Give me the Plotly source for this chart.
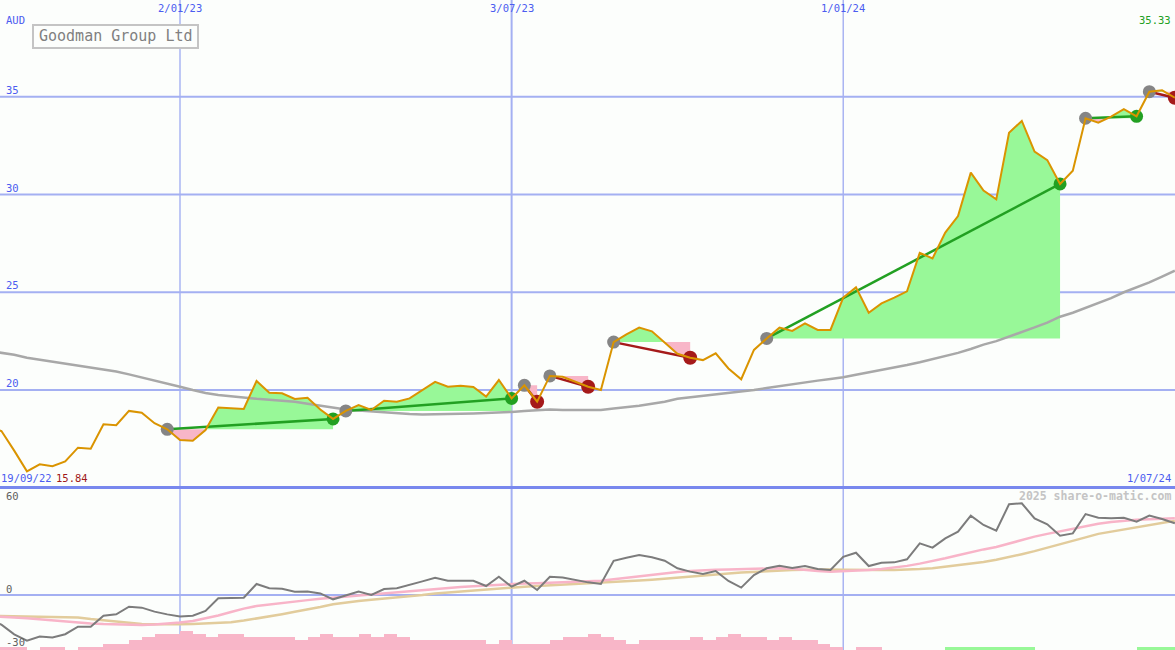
import pandas as pd
import plotly.graph_objects as go

# ---------------- data ----------------
dates = pd.date_range("2022-09-19", periods=94, freq="7D")

price = [18.1,
         17.9, 16.9, 15.84, 16.2, 16.1, 16.35, 17.05, 17.0, 18.25, 18.2,
         18.93, 18.84, 18.3, 17.99, 17.44, 17.4, 17.95, 19.1, 19.07, 19.03,
         20.46, 19.86, 19.83, 19.54, 19.6, 19.0, 18.52, 18.93, 19.23, 18.98,
         19.45, 19.4, 19.57, 20.0, 20.42, 20.17, 20.22, 20.15, 19.66, 20.51,
         19.57, 20.24, 19.4, 20.72, 20.68, 20.42, 20.17, 20.0, 22.45, 22.85,
         23.19, 23.0, 22.4, 21.85, 21.65, 21.53, 21.88, 21.1, 20.55, 22.05,
         22.64, 23.19, 23.02, 23.41, 23.07, 23.07, 24.72, 25.25, 23.95, 24.43,
         24.72, 25.05, 27.02, 26.73, 28.05, 28.9, 31.12, 30.2, 29.75, 33.16,
         33.76, 32.19, 31.76, 30.54, 31.22, 33.9, 33.67, 33.98, 34.37, 34.0,
         35.26, 35.33, 34.95]

long_ma = [22.0,
           21.9, 21.8, 21.65, 21.55, 21.45, 21.35, 21.25, 21.15, 21.05, 20.95,
           20.8, 20.65, 20.5, 20.35, 20.17, 20.0, 19.85, 19.75, 19.68, 19.6,
           19.55, 19.5, 19.45, 19.4, 19.3, 19.2, 19.1, 19.0, 18.95, 18.9,
           18.85, 18.8, 18.77, 18.75, 18.75, 18.76, 18.78, 18.8, 18.82, 18.85,
           18.88, 18.92, 18.96, 19.0, 18.98, 18.97, 18.97, 18.98, 19.05, 19.12,
           19.2, 19.3, 19.4, 19.55, 19.62, 19.7, 19.77, 19.85, 19.9, 20.0,
           20.1, 20.2, 20.3, 20.4, 20.48, 20.56, 20.65, 20.78, 20.9, 21.02,
           21.15, 21.28, 21.42, 21.57, 21.72, 21.9, 22.1, 22.32, 22.5, 22.72,
           22.95, 23.2, 23.45, 23.75, 23.95, 24.2, 24.45, 24.7, 25.0, 25.25,
           25.5, 25.8, 26.1]

oscillator = [-15.5,
              -18.5, -24.6, -28.5, -26, -26.6, -24.5, -19.8, -19.8, -12.9, -12.1,
              -7.3, -7.9, -10.4, -12.1, -13.5, -12.9, -10, -2.1, -1.9, -1.7,
              6.9, 4.2, 3.9, 2.1, 2.2, 1.0, -2.7, -0.4, 2.1, 0,
              3.75, 4.2, 6.2, 8.5, 10.8, 8.9, 8.9, 8.9, 5.6, 11.4,
              5.2, 8.9, 3.1, 11.4, 11.0, 9.5, 7.9, 6.9, 21.4, 23.3,
              25, 23.6, 21.4, 16.7, 14.6, 13.1, 15, 8.75, 4.6, 12.5,
              16.7, 18.3, 16.9, 18.1, 16.25, 15.6, 23.9, 26.4, 18.1, 20.2,
              20.4, 22.3, 32.3, 29.6, 35.4, 39.6, 49.6, 43.75, 40.2, 56.7,
              57.3, 47.9, 44.2, 37.1, 38.5, 50.6, 48.3, 47.9, 48.3, 45.8,
              49.6, 47.5, 44.8]

osc_fast = [-13.2,
            -13.5, -14.0, -14.6, -15.3, -15.9, -16.6, -17.1, -17.8, -18.2, -18.5,
            -18.7, -18.7, -18.4, -17.9, -17.2, -16.2, -14.6, -12.8, -10.6, -8.5,
            -6.9, -5.9, -4.9, -4.0, -3.2, -2.4, -1.7, -1.0, -0.4, 0.3,
            0.9, 1.5, 2.3, 3.0, 3.7, 4.4, 5.0, 5.5, 6.0, 6.5,
            6.9, 7.2, 7.4, 7.7, 8.0, 8.3, 8.6, 8.9, 9.8, 10.8,
            11.8, 12.8, 13.8, 14.4, 15.0, 15.5, 15.8, 16.0, 16.2, 16.4,
            16.6, 16.7, 16.4, 15.6, 15.0, 14.6, 14.8, 15.2, 15.6, 16.2,
            17.0, 18.2, 19.6, 21.2, 23.0, 24.9, 26.8, 28.5, 30.0, 32.3,
            34.5, 36.5, 38.2, 39.8, 41.2, 42.6, 44.5, 45.6, 46.4, 47.0,
            47.3, 47.5, 47.9]

osc_slow = [-13.0,
            -13.1, -13.2, -13.3, -13.4, -13.5, -13.5, -14.0, -15.0, -15.8, -16.6,
            -17.4, -18.1, -18.3, -18.4, -18.3, -18.1, -17.8, -17.5, -17.0, -16.0,
            -14.8, -13.5, -12.0, -10.5, -9.2, -7.5, -5.8, -4.6, -3.7, -3.0,
            -2.3, -1.6, -0.8, 0.0, 1.0, 1.6, 2.3, 3.0, 3.7, 4.3,
            4.8, 5.2, 5.6, 6.0, 6.3, 6.7, 7.1, 7.6, 8.2, 8.6,
            9.0, 9.6, 10.3, 11.0, 11.7, 12.4, 13.0, 13.5, 14.0, 14.5,
            15.0, 15.3, 15.6, 15.8, 16.0, 16.0, 15.8, 15.6, 15.6, 15.6,
            15.6, 15.7, 16.2, 16.7, 17.6, 18.6, 19.6, 20.6, 22.0, 23.6,
            25.5, 27.4, 29.5, 31.8, 33.5, 36.0, 38.2, 39.6, 41.0, 42.6,
            43.8, 45.0, 46.4]

hist_neg = [1,
            1, 1, 0, 1, 1, 0, 1, 1, 2, 2,
            3, 4, 5, 5, 6, 5, 4, 5, 5, 4,
            4, 4, 4, 3, 4, 5, 4, 4, 5, 4,
            5, 4, 3, 3, 3, 3, 3, 3, 2, 3,
            2, 2, 2, 3, 4, 4, 5, 4, 3, 2,
            3, 3, 3, 3, 4, 3, 4, 5, 4, 4,
            3, 4, 3, 3, 2, 1, 0, 1, 1, 0] + [0] * 23

hist_pos = [0] * 75 + [1] * 7 + [0] * 8 + [1] * 3 + [0]

# trades: entry date, exit date
trade_entry = ["2022-12-26", "2023-04-03", "2023-07-10", "2023-07-24",
               "2023-08-28", "2023-11-20", "2024-05-13", "2024-06-17"]
trade_exit = ["2023-03-27", "2023-07-03", "2023-07-17", "2023-08-14",
              "2023-10-09", "2024-04-29", "2024-06-10", "2024-07-01"]

date_ticks = ["2023-01-02", "2023-07-03", "2024-01-01"]
date_tick_text = ["2/01/23", "3/07/23", "1/01/24"]
price_ticks = [20, 25, 30, 35]

# ---------------- styling ----------------
W, H = 1175, 650
BG = "#fcfefc"
BLUE_TXT = "#4b5cf0"
GRID = "#a4b0f2"
GREEN_FILL = "#98f898"
PINK_FILL = "#f8b6c8"
GREEN = "#22a022"
RED = "#a51a1a"
ORANGE = "#da9400"
FONT = "DejaVu Sans Mono"


def px(x):
    return x / W


def py(y):
    return 1 - y / H


fig = go.Figure()


def idx(d):
    return dates.get_loc(pd.Timestamp(d))


def trade_polys(i0, i1, level):
    t = [dates[i0]]
    p = [price[i0]]
    for i in range(i0, i1):
        a, b = price[i] - level, price[i + 1] - level
        if a * b < 0:
            f = a / (a - b)
            t.append(dates[i] + (dates[i + 1] - dates[i]) * f)
            p.append(level)
        t.append(dates[i + 1])
        p.append(price[i + 1])
    up = [max(v, level) for v in p] + [level] * len(t)
    dn = [min(v, level) for v in p] + [level] * len(t)
    xs = t + t[::-1]
    return xs, up, dn


# trade fills
for e, x in zip(trade_entry, trade_exit):
    i0, i1 = idx(e), idx(x)
    level = price[i0]
    xs, up, dn = trade_polys(i0, i1, level)
    fig.add_trace(go.Scatter(x=xs, y=up, fill="toself", fillcolor=GREEN_FILL,
                             mode="lines", line=dict(width=0), hoverinfo="skip"))
    fig.add_trace(go.Scatter(x=xs, y=dn, fill="toself", fillcolor=PINK_FILL,
                             mode="lines", line=dict(width=0), hoverinfo="skip"))

# long moving average
fig.add_trace(go.Scatter(x=dates, y=long_ma, mode="lines",
                         line=dict(color="#a8a8a8", width=2.5)))

# trade lines and markers
for e, x in zip(trade_entry, trade_exit):
    i0, i1 = idx(e), idx(x)
    win = price[i1] >= price[i0]
    col = GREEN if win else RED
    fig.add_trace(go.Scatter(x=[dates[i0], dates[i1]], y=[price[i0], price[i1]],
                             mode="lines", line=dict(color=col, width=2.5)))
    fig.add_trace(go.Scatter(x=[dates[i1]], y=[price[i1]], mode="markers",
                             marker=dict(color=col, size=13 if win else 14,
                                         line=dict(width=0))))
    fig.add_trace(go.Scatter(x=[dates[i0]], y=[price[i0]], mode="markers",
                             marker=dict(color="#858585", size=13, line=dict(width=0))))

# price line
fig.add_trace(go.Scatter(x=dates, y=price, mode="lines",
                         line=dict(color=ORANGE, width=2)))

# lower panel: histogram bars
week_ms = 7 * 24 * 3600 * 1000
fig.add_trace(go.Bar(x=dates, y=hist_neg, offset=0, width=week_ms,
                     marker=dict(color=PINK_FILL, line=dict(width=0)),
                     xaxis="x2", yaxis="y3"))
fig.add_trace(go.Bar(x=dates, y=hist_pos, offset=0, width=week_ms,
                     marker=dict(color=GREEN_FILL, line=dict(width=0)),
                     xaxis="x2", yaxis="y3"))

# lower panel lines
fig.add_trace(go.Scatter(x=dates, y=osc_slow, mode="lines", xaxis="x2", yaxis="y2",
                         line=dict(color="#e2cc9c", width=2.5)))
fig.add_trace(go.Scatter(x=dates, y=osc_fast, mode="lines", xaxis="x2", yaxis="y2",
                         line=dict(color="#f8b4c8", width=2.5)))
fig.add_trace(go.Scatter(x=dates, y=oscillator, mode="lines", xaxis="x2", yaxis="y2",
                         line=dict(color="#7c7c7c", width=2)))

# ---------------- axes ----------------
x_range = [pd.Timestamp("2022-09-25 05:00"), pd.Timestamp("2024-07-01 02:00")]
main_bottom = py(487)
lower_top = py(488)
ppu = 19.55  # pixels per AUD
y_main = [20 - (487 - 390) / ppu, 20 + 390 / ppu]
opu = 1.6
y_low = [(595 - 650) / opu, (595 - 488) / opu]

ax_hidden = dict(visible=False, showgrid=False, zeroline=False, fixedrange=True)
fig.update_layout(
    width=W, height=H,
    margin=dict(l=0, r=0, t=0, b=0),
    paper_bgcolor=BG, plot_bgcolor=BG,
    showlegend=False, hovermode=False,
    barmode="overlay", bargap=0,
    xaxis=dict(ax_hidden, range=x_range, type="date", domain=[0, 1], anchor="y"),
    yaxis=dict(ax_hidden, range=y_main, domain=[main_bottom, 1], anchor="x"),
    xaxis2=dict(ax_hidden, range=x_range, type="date", domain=[0, 1], anchor="y2",
                matches="x"),
    yaxis2=dict(ax_hidden, range=y_low, domain=[0, lower_top], anchor="x2"),
    yaxis3=dict(ax_hidden, range=[0, 162 / 3.25], domain=[0, lower_top],
                anchor="x2", overlaying="y2"),
)

shapes = []
for lv in price_ticks:
    shapes.append(dict(type="line", xref="paper", yref="y", x0=0, x1=1, y0=lv, y1=lv,
                       line=dict(color=GRID, width=2), layer="below"))
shapes.append(dict(type="line", xref="paper", yref="y2", x0=0, x1=1, y0=0, y1=0,
                   line=dict(color=GRID, width=2), layer="below"))
for d in date_ticks:
    shapes.append(dict(type="line", xref="x", yref="paper", x0=d, x1=d, y0=0, y1=1,
                       line=dict(color=GRID, width=2 if d == "2023-07-03" else 1.4),
                       layer="below"))
shapes.append(dict(type="line", xref="paper", yref="paper", x0=0, x1=1,
                   y0=py(487.5), y1=py(487.5), line=dict(color="#7888ee", width=3)))
# title box
shapes.append(dict(type="rect", xref="paper", yref="paper", x0=px(33), x1=px(198),
                   y0=py(48), y1=py(25), line=dict(color="#c4c4c4", width=2),
                   fillcolor=BG))
fig.update_layout(shapes=shapes)

ann = []


def text(s, x, y, color, size=10.5, xanchor="left", yanchor="middle", bold=False, **kw):
    ann.append(dict(text=f"<b>{s}</b>" if bold else s, x=x, y=y,
                    xref=kw.pop("xref", "paper"), yref=kw.pop("yref", "paper"),
                    xanchor=xanchor, yanchor=yanchor, showarrow=False,
                    font=dict(family=FONT, size=size, color=color), **kw))


text("AUD", px(4), py(20), BLUE_TXT)
for lv in price_ticks:
    text(str(lv), px(4), lv, BLUE_TXT, yref="y", yanchor="bottom", yshift=-1)
for d, s in zip(date_ticks, date_tick_text):
    text(s, d, py(8), BLUE_TXT, xref="x", xanchor="center")
text("Goodman Group Ltd", px(115.5), py(36.5), "#808080", size=15, xanchor="center")
text("35.33", px(1173), py(20), GREEN, xanchor="right")
text("19/09/22", px(-1), py(478), BLUE_TXT)
text("15.84", px(54), py(478), "#a01818")
text("1/07/24", px(1173), py(478), BLUE_TXT, xanchor="right")
text("2025 share-o-matic.com", px(1173), py(496), "#c4c4c4", size=11.5,
     xanchor="right", bold=True)
text("60", px(4), py(496), "#606060")
text("0", px(4), py(589), "#606060")
text("-30", px(4), py(642), "#606060")
fig.update_layout(annotations=ann)

fig.write_html("out.html", config={"displayModeBar": False},
               post_script="document.body.style.margin='0';"
                           "document.body.style.overflow='hidden';")
